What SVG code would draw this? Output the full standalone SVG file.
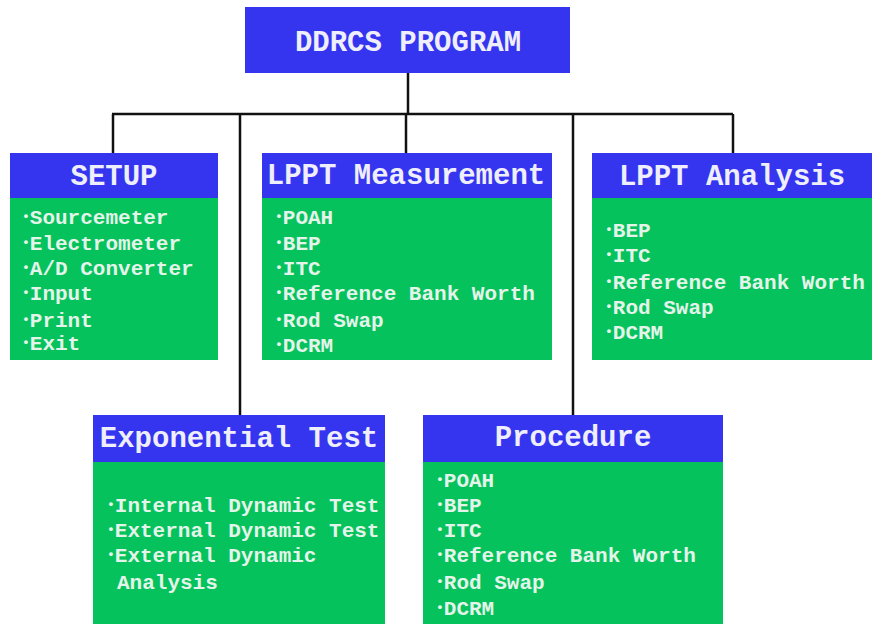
<svg xmlns="http://www.w3.org/2000/svg" width="872" height="624" viewBox="0 0 872 624">
<style>
.hd{fill:#3535f0}
.bd{fill:#05c25c}
.ht{font-family:"Liberation Mono","Courier New",monospace;font-weight:bold;font-size:29px;fill:#eeeefc;text-anchor:middle}
.bt{font-family:"Liberation Mono","Courier New",monospace;font-weight:bold;font-size:21px;fill:#e4f4ea}
.bu{font-size:13px;baseline-shift:4px}
.ln{stroke:#111;stroke-width:2.5;fill:none}
</style>
<rect width="872" height="624" fill="#fff"/>
<g id="connectors">
<line class="ln" x1="408" y1="73" x2="408" y2="114"/>
<line class="ln" x1="112" y1="114" x2="733" y2="114"/>
<line class="ln" x1="113" y1="114" x2="113" y2="153"/>
<line class="ln" x1="240" y1="114" x2="240" y2="415"/>
<line class="ln" x1="406" y1="114" x2="406" y2="153"/>
<line class="ln" x1="573" y1="114" x2="573" y2="415"/>
<line class="ln" x1="733" y1="114" x2="733" y2="153"/>
</g>
<g id="ddrcs">
<rect class="hd" x="245" y="7" width="325" height="66"/>
<text class="ht" x="408" y="51">DDRCS PROGRAM</text>
</g>
<g id="setup">
<rect class="hd" x="10" y="153" width="208" height="45"/>
<rect class="bd" x="10" y="198" width="208" height="162"/>
<text class="ht" x="114" y="185">SETUP</text>
<text class="bt" x="22" y="224"><tspan class="bu">•</tspan>Sourcemeter</text>
<text class="bt" x="22" y="250"><tspan class="bu">•</tspan>Electrometer</text>
<text class="bt" x="22" y="275"><tspan class="bu">•</tspan>A/D Converter</text>
<text class="bt" x="22" y="300"><tspan class="bu">•</tspan>Input</text>
<text class="bt" x="22" y="327"><tspan class="bu">•</tspan>Print</text>
<text class="bt" x="22" y="350"><tspan class="bu">•</tspan>Exit</text>
</g>
<g id="lppt-measurement">
<rect class="hd" x="262" y="153" width="290" height="45"/>
<rect class="bd" x="262" y="198" width="290" height="162"/>
<text class="ht" x="406" y="184">LPPT Measurement</text>
<text class="bt" x="275" y="224"><tspan class="bu">•</tspan>POAH</text>
<text class="bt" x="275" y="250"><tspan class="bu">•</tspan>BEP</text>
<text class="bt" x="275" y="275"><tspan class="bu">•</tspan>ITC</text>
<text class="bt" x="275" y="300"><tspan class="bu">•</tspan>Reference Bank Worth</text>
<text class="bt" x="275" y="327"><tspan class="bu">•</tspan>Rod Swap</text>
<text class="bt" x="275" y="352"><tspan class="bu">•</tspan>DCRM</text>
</g>
<g id="lppt-analysis">
<rect class="hd" x="592" y="153" width="280" height="45"/>
<rect class="bd" x="592" y="198" width="280" height="162"/>
<text class="ht" x="732" y="185">LPPT Analysis</text>
<text class="bt" x="605" y="237"><tspan class="bu">•</tspan>BEP</text>
<text class="bt" x="605" y="262"><tspan class="bu">•</tspan>ITC</text>
<text class="bt" x="605" y="289"><tspan class="bu">•</tspan>Reference Bank Worth</text>
<text class="bt" x="605" y="314"><tspan class="bu">•</tspan>Rod Swap</text>
<text class="bt" x="605" y="339"><tspan class="bu">•</tspan>DCRM</text>
</g>
<g id="exponential-test">
<rect class="hd" x="93" y="415" width="292" height="47"/>
<rect class="bd" x="93" y="462" width="292" height="162"/>
<text class="ht" x="239" y="447">Exponential Test</text>
<text class="bt" x="107" y="512"><tspan class="bu">•</tspan>Internal Dynamic Test</text>
<text class="bt" x="107" y="537"><tspan class="bu">•</tspan>External Dynamic Test</text>
<text class="bt" x="107" y="562"><tspan class="bu">•</tspan>External Dynamic</text>
<text class="bt" x="117" y="589">Analysis</text>
</g>
<g id="procedure">
<rect class="hd" x="423" y="415" width="300" height="47"/>
<rect class="bd" x="423" y="462" width="300" height="162"/>
<text class="ht" x="573" y="446">Procedure</text>
<text class="bt" x="436" y="487"><tspan class="bu">•</tspan>POAH</text>
<text class="bt" x="436" y="512"><tspan class="bu">•</tspan>BEP</text>
<text class="bt" x="436" y="537"><tspan class="bu">•</tspan>ITC</text>
<text class="bt" x="436" y="562"><tspan class="bu">•</tspan>Reference Bank Worth</text>
<text class="bt" x="436" y="589"><tspan class="bu">•</tspan>Rod Swap</text>
<text class="bt" x="436" y="615"><tspan class="bu">•</tspan>DCRM</text>
</g>
</svg>
